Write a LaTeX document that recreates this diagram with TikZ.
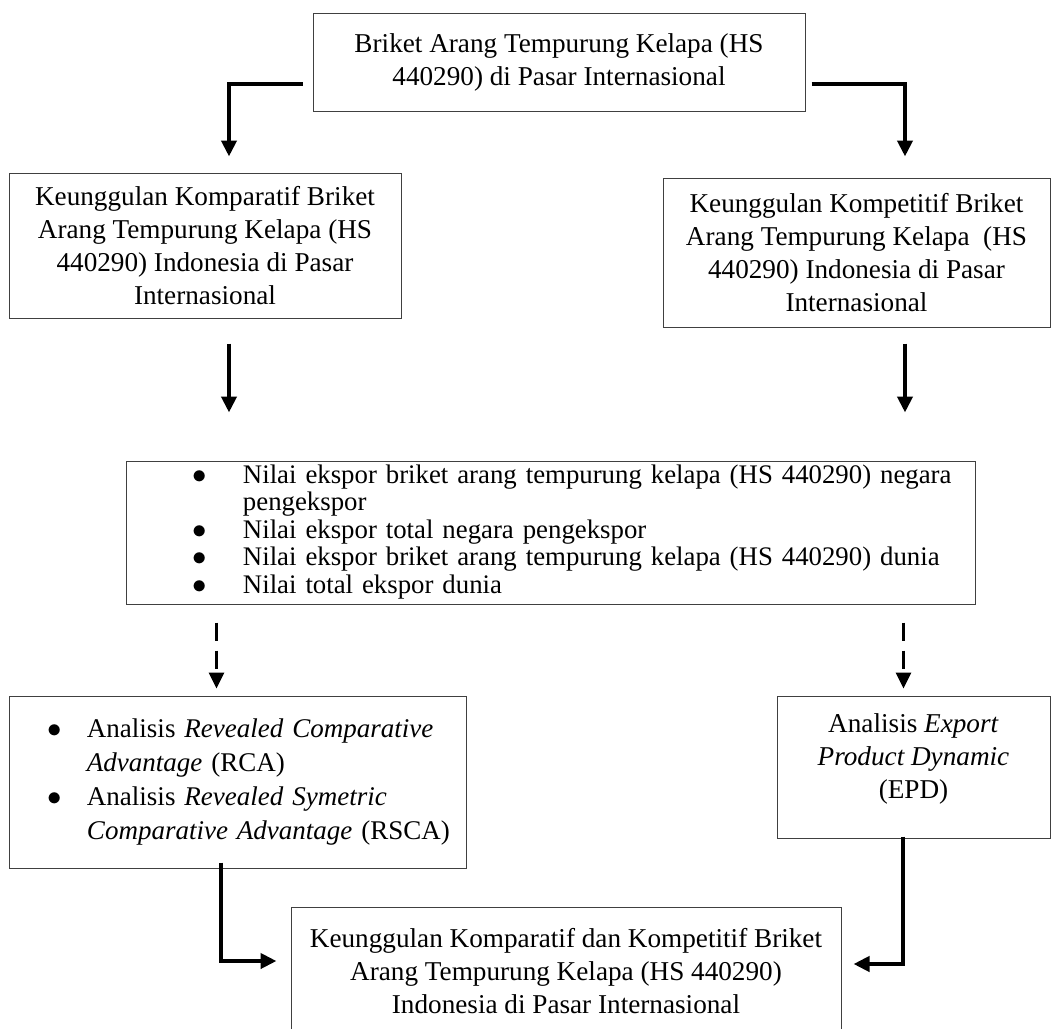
\documentclass[tikz,border=0pt]{standalone}
\usepackage{fontspec}
\setmainfont{Liberation Serif}
\usetikzlibrary{arrows.meta,calc}
\tikzstyle{arrow} = [line width=2pt,-{Triangle[length=8pt,width=7.5pt]}]
\tikzstyle{dasharrow} = [line width=1.6pt,dash pattern=on 9pt off 5pt,-{Triangle[length=8pt,width=7.5pt]}]
\tikzstyle{box} = [draw=black!75,line width=0.5pt,align=center,inner sep=0pt,font=\fontsize{13.6}{16.5}\selectfont]
\newcommand{\bul}{\makebox[9pt]{$\bullet$}}

\begin{document}
\begin{tikzpicture}[x=1pt,y=1pt]
  \useasboundingbox (0,0) rectangle (528.5,-514.5);
  % boxes
  \node[box,minimum width=246pt,minimum height=49pt] (top) at (279.5,-31)
    {Briket Arang Tempurung Kelapa (HS\\440290) di Pasar Internasional};
  \node[box,minimum width=196pt,minimum height=72.5pt] (komp) at (102.5,-122.75)
    {Keunggulan Komparatif Briket\\Arang Tempurung Kelapa (HS\\440290) Indonesia di Pasar\\Internasional};
  \node[box,minimum width=193.5pt,minimum height=74.5pt] (kompet) at (428.25,-126.25)
    {Keunggulan Kompetitif Briket\\Arang Tempurung Kelapa\ \ (HS\\440290) Indonesia di Pasar\\Internasional};
  \node[box,minimum width=424.5pt,minimum height=71.5pt,text width=424.5pt,align=left,
        font=\fontsize{13.4}{13.75}\selectfont] (data) at (275.25,-266.25)
    {\hspace*{32.5pt}\begin{tabular}{@{}l@{\hspace{17pt}}l@{}}
      \bul & Nilai ekspor briket arang tempurung kelapa (HS 440290) negara\\
           & pengekspor\\
      \bul & Nilai ekspor total negara pengekspor\\
      \bul & Nilai ekspor briket arang tempurung kelapa (HS 440290) dunia\\
      \bul & Nilai total ekspor dunia
    \end{tabular}};
  \node[box,minimum width=228.5pt,minimum height=86pt,text width=228.5pt,align=left,
        font=\fontsize{13.5}{17}\selectfont] (rca) at (118.75,-391)
    {\hspace*{18.5pt}\begin{tabular}{@{}l@{\hspace{11.5pt}}l@{}}
      \bul & Analisis \textit{Revealed Comparative}\\
           & \textit{Advantage} (RCA)\\
      \bul & Analisis \textit{Revealed Symetric}\\
           & \textit{Comparative Advantage} (RSCA)
    \end{tabular}};
  \node[box,minimum width=136.5pt,minimum height=71pt,text depth=11pt] (epd) at (456.75,-383.5)
    {Analisis \textit{Export}\\\textit{Product Dynamic}\\(EPD)};
  \node[box,minimum width=275pt,minimum height=64pt] (hasil) at (283,-485.5)
    {Keunggulan Komparatif dan Kompetitif Briket\\Arang Tempurung Kelapa (HS 440290)\\Indonesia di Pasar Internasional};

  % arrows
  \draw[arrow] ($(top.west)+(-5,-11)$) -| ($(komp.north)+(12,8)$);
  \draw[arrow] ($(top.east)+(3,-11)$) -| ($(kompet.north)+(24.25,10.5)$);
  \draw[arrow] ($(komp.south)+(12,-12.5)$) -- ++(0,-34.5);
  \draw[arrow] ($(kompet.south)+(24.25,-8)$) -- ++(0,-34.5);
  \draw[dasharrow] ($(data.south west)+(45.5,-9)$) -- ++(0,-33);
  \draw[dasharrow] ($(data.south east)+(-36,-9)$) -- ++(0,-33);
  \draw[arrow] ($(rca.south west)+(106,3)$) |- ($(hasil.west)+(-7,5)$);
  \draw[arrow] ($(epd.south)+(-5.25,1)$) |- ($(hasil.east)+(6,3.5)$);
\end{tikzpicture}
\end{document}
